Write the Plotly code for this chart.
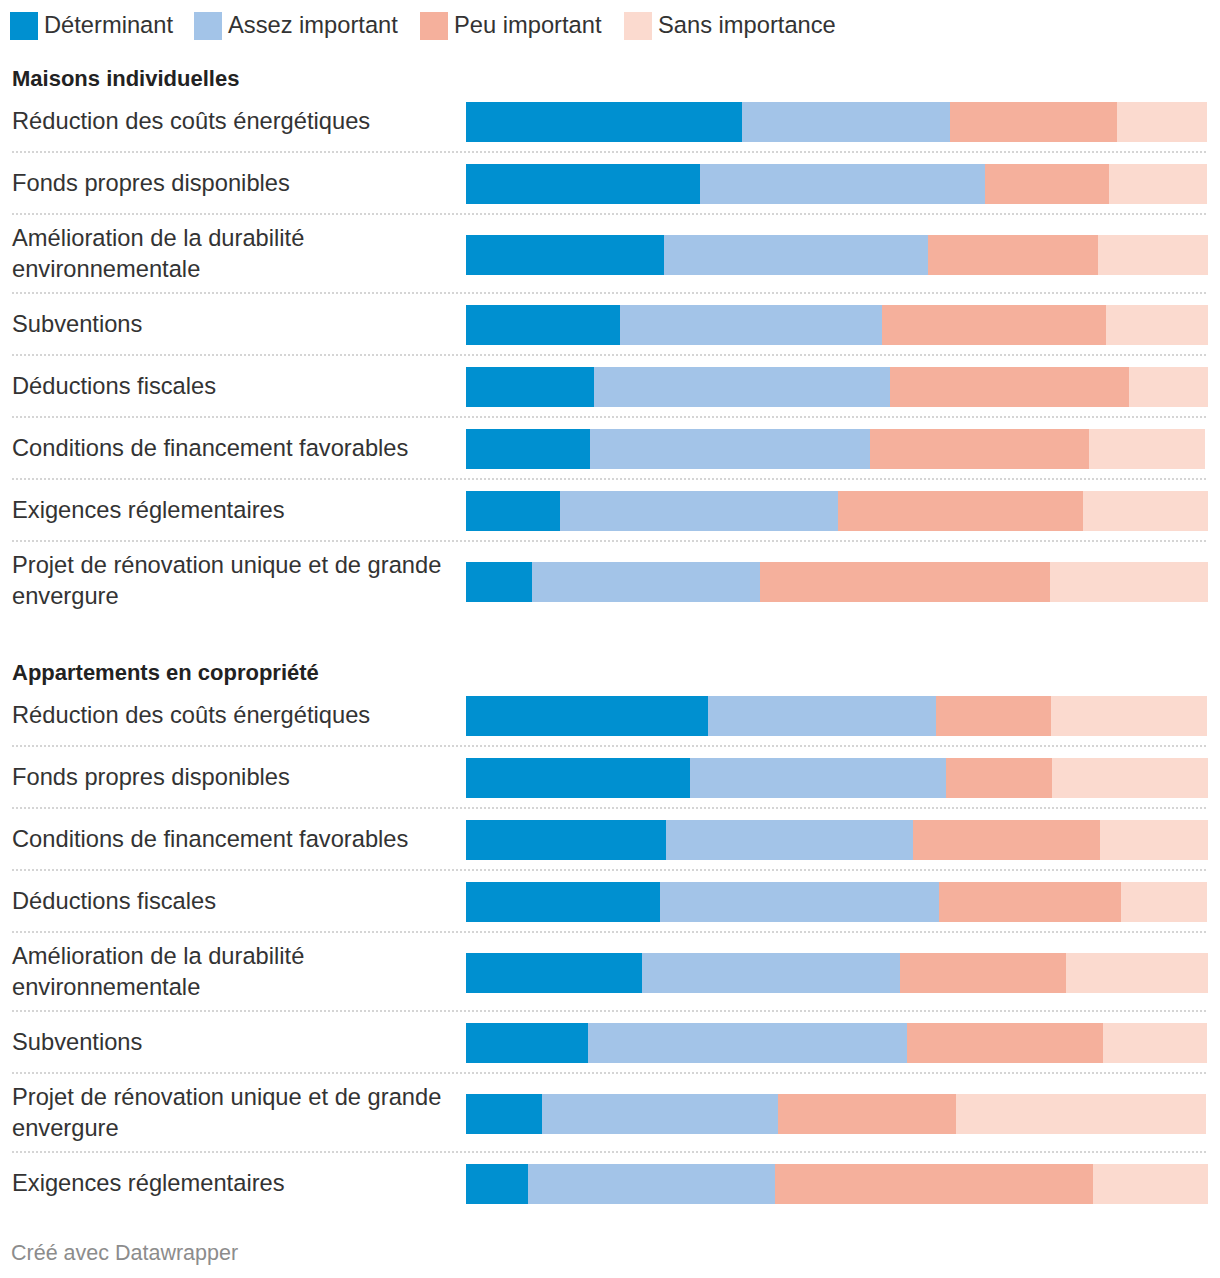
import plotly.graph_objects as go

# ---------------- data ----------------
categories = ["Déterminant", "Assez important", "Peu important", "Sans importance"]
colors = ["#0090d0", "#a3c4e8", "#f5b09c", "#fbdacf"]

section_titles = ["Maisons individuelles", "Appartements en copropriété"]

labels_maisons = [
    "Réduction des coûts énergétiques",
    "Fonds propres disponibles",
    "Amélioration de la durabilité<br>environnementale",
    "Subventions",
    "Déductions fiscales",
    "Conditions de financement favorables",
    "Exigences réglementaires",
    "Projet de rénovation unique et de grande<br>envergure",
]
determinant_maisons = [37.2, 31.5, 26.7, 20.8, 17.3, 16.7, 12.7, 8.9]
assez_maisons = [28.0, 38.5, 35.6, 35.3, 39.9, 37.7, 37.5, 30.7]
peu_maisons = [22.6, 16.7, 22.9, 30.2, 32.1, 29.6, 32.9, 39.1]
sans_maisons = [12.1, 13.2, 14.8, 13.7, 10.8, 15.6, 17.0, 21.3]

labels_apparts = [
    "Réduction des coûts énergétiques",
    "Fonds propres disponibles",
    "Conditions de financement favorables",
    "Déductions fiscales",
    "Amélioration de la durabilité<br>environnementale",
    "Subventions",
    "Projet de rénovation unique et de grande<br>envergure",
    "Exigences réglementaires",
]
determinant_apparts = [32.6, 30.2, 27.0, 26.1, 23.7, 16.4, 10.2, 8.4]
assez_apparts = [30.7, 34.5, 33.2, 37.7, 34.8, 43.1, 31.8, 33.2]
peu_apparts = [15.6, 14.3, 25.3, 24.5, 22.4, 26.4, 24.0, 42.9]
sans_apparts = [21.0, 21.0, 14.6, 11.6, 19.1, 14.0, 33.7, 15.6]

footer = "Créé avec Datawrapper"

# ---------------- layout helpers (screen pixel space) ----------------
PAGE_W, PAGE_H = 1220, 1278
OFF = 8                      # default body margin of the html page
W, H = PAGE_W - OFF, PAGE_H - OFF
FONT = "Liberation Sans, Arial, Helvetica, sans-serif"
TEXT = "#333333"
BAR_H = 40
X0, X1 = 466, 1208
LINE_X = 12
LABEL_X = 10


def px(x):
    """screen x pixel -> paper fraction"""
    return (x - OFF) / W


sections = [
    (section_titles[0], labels_maisons,
     [determinant_maisons, assez_maisons, peu_maisons, sans_maisons], 90),
    (section_titles[1], labels_apparts,
     [determinant_apparts, assez_apparts, peu_apparts, sans_apparts], 684),
]

all_y = []
all_vals = [[] for _ in categories]
annotations = []
shapes = []

for title, labels, vals, top in sections:
    annotations.append(dict(
        x=px(LABEL_X), xref="paper", y=top - 12, yref="y", text="<b>" + title + "</b>",
        showarrow=False, xanchor="left", yanchor="middle",
        font=dict(family=FONT, size=22, color="#222222")))
    y = top
    for i, lab in enumerate(labels):
        h = 79 if "<br>" in lab else 62
        if i > 0:
            shapes.append(dict(type="line", xref="paper", yref="y",
                               x0=px(LINE_X), x1=px(X1), y0=y, y1=y,
                               line=dict(color="#c8c8c8", width=1.5, dash="2px,2px")))
        c = y + h / 2 + 1
        all_y.append(c)
        for k in range(len(categories)):
            all_vals[k].append(vals[k][i])
        annotations.append(dict(
            x=px(LABEL_X), xref="paper", y=c - 1, yref="y", text=lab,
            showarrow=False, xanchor="left", yanchor="middle", align="left",
            font=dict(family=FONT, size=23.7, color=TEXT)))
        y += h

fig = go.Figure()
for k, cat in enumerate(categories):
    fig.add_trace(go.Bar(
        y=all_y, x=all_vals[k], orientation="h", name=cat,
        marker=dict(color=colors[k], line=dict(width=0)),
        width=BAR_H, showlegend=False,
        hovertemplate=cat + ": %{x:.1f}%<extra></extra>"))

# custom legend
legend_sq_x = [10, 194, 420, 624]
for k, cat in enumerate(categories):
    shapes.append(dict(type="rect", xref="paper", yref="y",
                       x0=px(legend_sq_x[k]), x1=px(legend_sq_x[k] + 28),
                       y0=12, y1=40, fillcolor=colors[k], line=dict(width=0)))
    annotations.append(dict(
        x=px(legend_sq_x[k] + 32), xref="paper", y=25, yref="y", text=cat,
        showarrow=False, xanchor="left", yanchor="middle",
        font=dict(family=FONT, size=23.7, color=TEXT)))

annotations.append(dict(
    x=px(LABEL_X - 1), xref="paper", y=1253, yref="y", text=footer,
    showarrow=False, xanchor="left", yanchor="middle",
    font=dict(family=FONT, size=21.5, color="#8c8c8c")))

fig.update_layout(
    width=W, height=H, margin=dict(l=0, r=0, t=0, b=0),
    paper_bgcolor="white", plot_bgcolor="white",
    barmode="stack", bargap=0,
    xaxis=dict(domain=[px(X0), px(X1)], range=[0, 100], visible=False, fixedrange=True),
    yaxis=dict(domain=[0, 1], range=[OFF + H, OFF], visible=False, fixedrange=True),
    annotations=annotations, shapes=shapes,
)

fig.write_html("out.html", config={"displayModeBar": False})
